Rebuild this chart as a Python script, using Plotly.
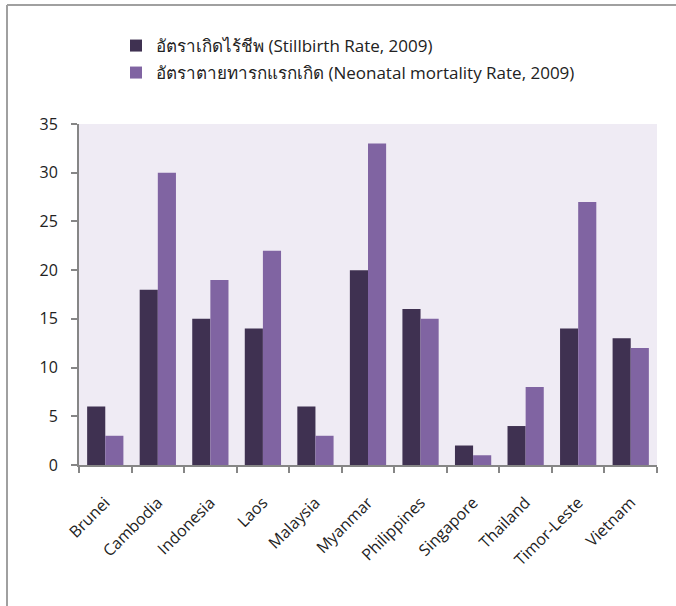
import plotly.graph_objects as go

countries = ["Brunei", "Cambodia", "Indonesia", "Laos", "Malaysia", "Myanmar",
             "Philippines", "Singapore", "Thailand", "Timor-Leste", "Vietnam"]
stillbirth = [6, 18, 15, 14, 6, 20, 16, 2, 4, 14, 13]
neonatal = [3, 30, 19, 22, 3, 33, 15, 1, 8, 27, 12]
name1 = "อัตราเกิดไร้ชีพ (Stillbirth Rate, 2009)"
name2 = "อัตราตายทารกแรกเกิด (Neonatal mortality Rate, 2009)"

FONT = "Open Sans, Noto Sans, sans-serif"
W, H = 676, 606
ml, mr, mt, mb = 79, 19, 124, 141
pw, ph = W - ml - mr, H - mt - mb

fig = go.Figure()
fig.add_trace(go.Bar(x=countries, y=stillbirth, name=name1, showlegend=True,
                     marker=dict(color="#3F3151", line=dict(width=0)), legend="legend"))
fig.add_trace(go.Bar(x=countries, y=neonatal, name=name2, showlegend=True,
                     marker=dict(color="#8064A2", line=dict(width=0)), legend="legend2"))

def px_x(p):
    return (p - ml) / pw

def px_y(p):
    return (H - mb - p) / ph

legend_common = dict(font=dict(family=FONT, size=17, color="#222222"),
                     bgcolor="rgba(0,0,0,0)", xanchor="left", yanchor="middle",
                     itemwidth=30, visible=True)

border = dict(color="#A0A0A0", width=2)

fig.update_layout(
    width=W, height=H,
    margin=dict(l=ml, r=mr, t=mt, b=mb),
    paper_bgcolor="white",
    plot_bgcolor="#EFEBF4",
    barmode="group",
    bargap=0.31,
    bargroupgap=0,
    showlegend=True,
    font=dict(family=FONT, size=16, color="#222222"),
    legend=dict(x=px_x(116), y=px_y(46), **legend_common),
    legend2=dict(x=px_x(116), y=px_y(73), **legend_common),
    xaxis=dict(showline=True, linecolor="#868686", linewidth=2,
               ticks="outside", tickson="boundaries", ticklen=6, tickcolor="#868686",
               tickwidth=2, tickangle=-45, ticklabelstandoff=20,
               tickfont=dict(family=FONT, size=16, color="#222222")),
    yaxis=dict(range=[0, 35], dtick=5, showline=True, linecolor="#868686", linewidth=2,
               ticks="outside", ticklen=6, tickcolor="#868686", tickwidth=2,
               ticklabelstandoff=10,
               showgrid=False, zeroline=False,
               tickfont=dict(family=FONT, size=16, color="#222222")),
    shapes=[
        dict(type="line", xref="paper", yref="paper",
             x0=px_x(7), x1=px_x(676), y0=px_y(5), y1=px_y(5), line=border),
        dict(type="line", xref="paper", yref="paper",
             x0=px_x(7), x1=px_x(7), y0=px_y(5), y1=px_y(606), line=border),
    ],
)

fig.write_html("out.html", config={"displayModeBar": False},
               post_script="document.body.style.margin='0';document.body.style.padding='0';")
